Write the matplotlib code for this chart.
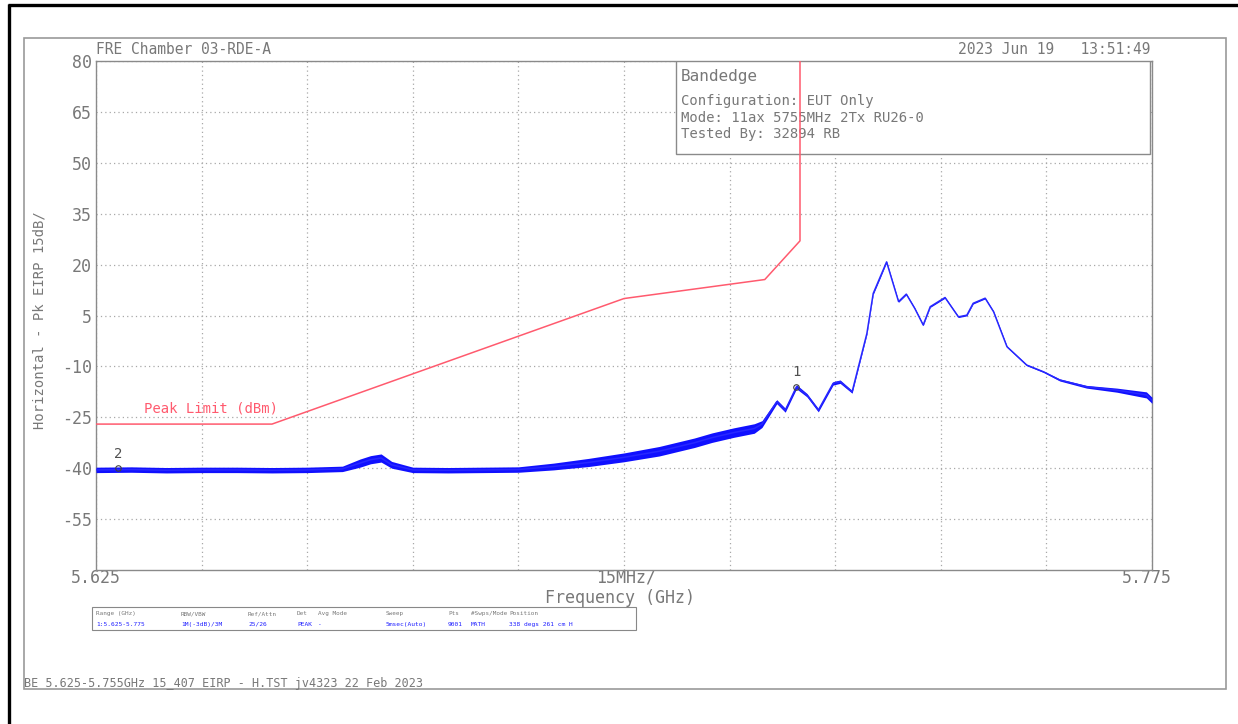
import matplotlib
matplotlib.use("Agg")
import matplotlib.pyplot as plt
import numpy as np

# trace (GHz, dBm EIRP) plus the noise half-width
freq = [5.625, 5.630, 5.635, 5.640, 5.645, 5.650, 5.655, 5.660, 5.6625, 5.6640,
        5.6655, 5.6670, 5.670, 5.675, 5.680, 5.685, 5.690, 5.695, 5.700, 5.705,
        5.710, 5.7125, 5.7156, 5.7185, 5.7196, 5.7217, 5.7229, 5.7245, 5.7260,
        5.7276, 5.7297, 5.7307, 5.7324, 5.7345, 5.7354, 5.7364, 5.7373, 5.7390,
        5.7401, 5.7413, 5.7425, 5.7435, 5.7456, 5.7475, 5.7487, 5.7496, 5.7513,
        5.7525, 5.7544, 5.7572, 5.7596, 5.7619, 5.7657, 5.7700, 5.7742, 5.7750]
level = [-40.5, -40.4, -40.6, -40.5, -40.5, -40.6, -40.5, -40.2, -38.5, -37.5,
         -37.0, -39.0, -40.5, -40.6, -40.5, -40.4, -39.5, -38.3, -36.8, -35.0,
         -32.5, -31.0, -29.5, -28.3, -27.0, -20.4, -22.9, -16.0, -18.5,
         -22.9, -15.0, -14.5, -17.5, -0.3, 11.5, 16.4, 20.8, 9.1,
         11.3, 7.1, 2.2, 7.6, 10.3, 4.6, 5.1, 8.6, 10.1,
         6.1, -4.2, -9.6, -11.6, -14.0, -16.0, -17.0, -18.4, -20.0]
noise = [0.8, 0.8, 0.8, 0.8, 0.8, 0.8, 0.8, 0.8, 1.2, 1.2,
         1.2, 1.0, 0.8, 0.8, 0.8, 0.8, 1.0, 1.2, 1.3, 1.4,
         1.4, 1.4, 1.4, 1.4, 1.0, 0.6, 0.6, 0.6, 0.5,
         0.5, 0.5, 0.5, 0.4, 0.3, 0.3, 0.3, 0.2, 0.2,
         0.2, 0.2, 0.2, 0.2, 0.2, 0.2, 0.2, 0.2, 0.2,
         0.2, 0.2, 0.2, 0.2, 0.3, 0.4, 0.6, 0.9, 0.9]

# FCC 15.407 peak limit line
lim_freq = [5.625, 5.650, 5.700, 5.720, 5.725, 5.725]
lim_level = [-27.0, -27.0, 10.0, 15.6, 27.0, 80.0]

yticks = [80, 65, 50, 35, 20, 5, -10, -25, -40, -55]

markers_f = [5.7245, 5.6281]
markers_l = [-16.0, -40.0]
markers_n = ["1", "2"]

table_head = ["Range (GHz)", "RBW/VBW", "Ref/Attn", "Det", "Avg Mode", "Sweep",
              "Pts", "#Swps/Mode", "Position"]
table_vals = ["1:5.625-5.775", "1M(-3dB)/3M", "25/26", "PEAK", "-", "5msec(Auto)",
              "9001", "MATH", "338 degs 261 cm H"]
table_x = [96, 181, 248, 297, 318, 386, 448, 471, 509]

W, H = 1238, 724
mono = "DejaVu Sans Mono"
grey = "#787878"

fig = plt.figure(figsize=(W / 100, H / 100), dpi=100)

# full-figure overlay in pixel coordinates for frames and loose text
bg = fig.add_axes([0, 0, 1, 1], zorder=0)
bg.set_xlim(0, W)
bg.set_ylim(H, 0)
bg.axis("off")
bg.plot([8, W], [5, 5], color="black", lw=2.4, solid_capstyle="butt")
bg.plot([9, 9], [4, H], color="black", lw=2.4, solid_capstyle="butt")
bg.add_patch(plt.Rectangle((24, 38), 1226 - 24, 689 - 38, fill=False,
                           ec="#9a9a9a", lw=1.2))

bg.text(96, 50, "FRE Chamber 03-RDE-A", family=mono, fontsize=10.5, color=grey,
        va="center", ha="left")
bg.text(1150, 50, "2023 Jun 19   13:51:49", family=mono, fontsize=10.5, color=grey,
        va="center", ha="right")
bg.text(96, 578, "5.625", family=mono, fontsize=12, color=grey, va="center", ha="center")
bg.text(626, 578, "15MHz/", family=mono, fontsize=12, color=grey, va="center", ha="center")
bg.text(1147, 578, "5.775", family=mono, fontsize=12, color=grey, va="center", ha="center")
bg.text(620, 598, "Frequency (GHz)", family=mono, fontsize=12, color=grey,
        va="center", ha="center")
bg.text(40, 320, "Horizontal - Pk EIRP 15dB/", family=mono, fontsize=10, color=grey,
        va="center", ha="center", rotation=90)
bg.text(24, 683, "BE 5.625-5.755GHz 15_407 EIRP - H.TST jv4323 22 Feb 2023",
        family=mono, fontsize=8.5, color=grey, va="center", ha="left")

# settings table under the plot
bg.add_patch(plt.Rectangle((92, 607), 636 - 92, 630 - 607, fill=False,
                           ec="#888888", lw=0.8))
for x, h, v in zip(table_x, table_head, table_vals):
    bg.text(x, 615, h, family=mono, fontsize=4.3, color=grey, va="baseline", ha="left")
    bg.text(x, 626, v, family=mono, fontsize=4.5, color="#2020ff", va="baseline", ha="left")

# main plot
ax = fig.add_axes([96 / W, 1 - 570 / H, (1152 - 96) / W, (570 - 61) / H], zorder=1)
ax.set_xlim(5.625, 5.775)
ax.set_ylim(-70, 80)
ax.set_xticks(np.arange(5.625, 5.7751, 0.015))
ax.set_xticklabels([])
ax.set_yticks(yticks)
ax.set_yticklabels([str(t) for t in yticks], family=mono, fontsize=12, color=grey)
ax.tick_params(length=0, pad=3)
ax.grid(True, color="#a8a8a8", lw=0.9, linestyle=(0, (1, 2.5)))
for s in ax.spines.values():
    s.set_color("#8a8a8a")
    s.set_linewidth(1.0)

lo = np.array(level) - np.array(noise)
hi = np.array(level) + np.array(noise)
ax.fill_between(freq, lo, hi, color="#1010ff", lw=0, zorder=3)
ax.plot(freq, level, color="#2828ff", lw=1.1, zorder=4)

# info box (white, over the grid)
ax.add_patch(plt.Rectangle((0.549, 0.817), 0.449, 0.183, transform=ax.transAxes,
                           fc="white", ec="#8a8a8a", lw=1.0, zorder=5))
ax.text(0.554, 0.969, "Bandedge", transform=ax.transAxes, family=mono, fontsize=11.5,
        color=grey, va="center", zorder=6)
ax.text(0.554, 0.921, "Configuration: EUT Only", transform=ax.transAxes, family=mono,
        fontsize=10, color=grey, va="center", zorder=6)
ax.text(0.554, 0.888, "Mode: 11ax 5755MHz 2Tx RU26-0", transform=ax.transAxes,
        family=mono, fontsize=10, color=grey, va="center", zorder=6)
ax.text(0.554, 0.856, "Tested By: 32894 RB", transform=ax.transAxes, family=mono,
        fontsize=10, color=grey, va="center", zorder=6)

ax.plot(lim_freq, lim_level, color="#ff5a6e", lw=1.1, zorder=7)
ax.text(5.6318, -24.5, "Peak Limit (dBm)", family=mono, fontsize=10, color="#ff5a6e",
        va="bottom", ha="left", zorder=7)

for f, l, n in zip(markers_f, markers_l, markers_n):
    ax.plot(f, l, marker="o", ms=4, mfc="none", mec="#404040", mew=0.8, zorder=8)
    ax.text(f, l + 2.2, n, family=mono, fontsize=10, color="#505050",
            va="bottom", ha="center", zorder=8)

fig.savefig("out.png", dpi=100, facecolor="white")
